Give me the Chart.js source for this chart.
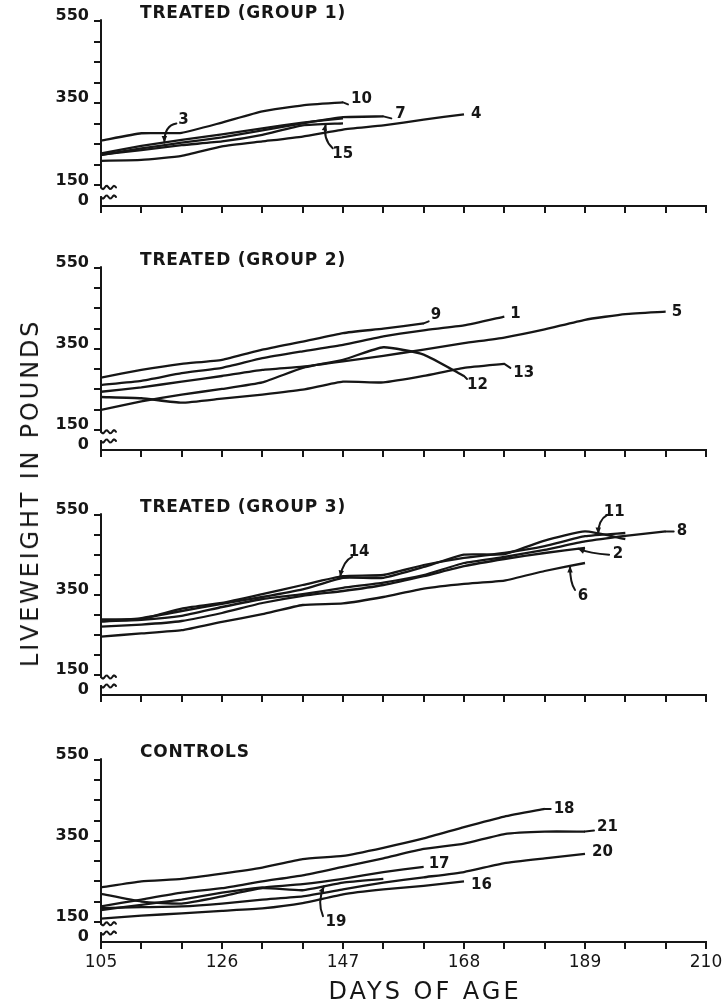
<!DOCTYPE html>
<html>
<head>
<meta charset="utf-8">
<script src="https://cdn.jsdelivr.net/npm/chart.js@4.4.1/dist/chart.umd.min.js"></script>
<style>
  body { margin: 0; background: #fff; width: 727px; height: 1007px; position: relative; overflow: hidden; font-family: "DejaVu Sans", sans-serif; color: #161616; }
  .panel { position: absolute; left: 0; width: 727px; }
  #ytitle { position: absolute; left: 30px; top: 493px; transform: translate(-50%, -50%) rotate(-90deg); font-size: 24px; letter-spacing: 2.8px; white-space: nowrap; }
  #xtitle { position: absolute; left: 425px; top: 991px; transform: translate(-50%, -50%); font-size: 24px; letter-spacing: 3px; white-space: nowrap; }
</style>
</head>
<body>
<div class="panel" style="top:0px;height:216px"><canvas id="g1"></canvas></div>
<div class="panel" style="top:238px;height:222px"><canvas id="g2"></canvas></div>
<div class="panel" style="top:485px;height:220px"><canvas id="g3"></canvas></div>
<div class="panel" style="top:730px;height:277px"><canvas id="g4"></canvas></div>
<div id="ytitle">LIVEWEIGHT IN POUNDS</div>
<div id="xtitle">DAYS OF AGE</div>

<script>
// weighing days (every 7 days from day 105)
var DAYS = [105, 112, 119, 126, 133, 140, 147, 154, 161, 168, 175, 182, 189, 196, 203];
var X_LABELS = [105, 126, 147, 168, 189, 210];
var Y_LABELS = [150, 350, 550];
var Y_TICKS = [100, 150, 200, 250, 300, 350, 400, 450, 500, 550];
var Y_ZERO = 100; // bottom of broken axis, labelled "0"

// Treated (group 1)
var g1_10 = [259, 277, 278, 303, 330, 345, 352];
var g1_3 = [228, 246, 261, 274, 289, 303, 313];
var g1_7 = [224, 240, 254, 267, 284, 301, 316, 318];
var g1_15 = [225, 236, 248, 257, 273, 296, 301];
var g1_4 = [210, 212, 222, 245, 257, 269, 286, 296, 310, 323];

// Treated (group 2)
var g2_9 = [279, 298, 313, 323, 348, 368, 389, 400, 413];
var g2_1 = [261, 271, 290, 303, 327, 344, 360, 381, 396, 408, 430];
var g2_5 = [244, 255, 269, 283, 298, 306, 319, 333, 348, 364, 378, 398, 422, 436, 442];
var g2_12 = [199, 220, 237, 251, 267, 303, 323, 354, 336, 283];
var g2_13 = [231, 228, 217, 227, 237, 249, 269, 267, 283, 303, 313];

// Treated (group 3)
var g3_14 = [289, 290, 316, 330, 352, 375, 397, 400, 425, 443, 455, 472, 497, 505];
var g3_11 = [284, 292, 310, 328, 345, 364, 393, 393, 420, 451, 452, 486, 509, 490];
var g3_8 = [284, 288, 298, 320, 340, 352, 368, 381, 400, 430, 445, 463, 484, 498, 509];
var g3_2 = [271, 276, 285, 305, 330, 348, 360, 375, 397, 422, 440, 455, 468];
var g3_6 = [246, 254, 262, 283, 302, 325, 329, 345, 366, 378, 386, 410, 430];

// Controls
var g4_18 = [235, 250, 256, 269, 284, 305, 313, 333, 356, 384, 410, 429];
var g4_21 = [188, 205, 222, 233, 250, 265, 286, 307, 330, 343, 367, 373, 373];
var g4_17 = [179, 192, 205, 222, 235, 243, 256, 273, 286];
var g4_19 = [219, 200, 195, 213, 233, 228, 247, 256];
var g4_20 = [184, 186, 188, 195, 205, 213, 230, 247, 260, 273, 295, 307, 318];
var g4_16 = [158, 165, 171, 177, 183, 196, 218, 230, 239, 250];

var INK = "#161616";

// label / arrow placement for each panel (pixels)
var DECOR = {
  g1: { title: "TREATED (GROUP 1)", marks: {
    "10": { dx: 8, dy: -3, lead: [5, 2] },
    "7": { dx: 12, dy: -2, lead: [8, 2] },
    "4": { dx: 7, dy: 0 },
    "3": { at: 116, lx: 19, ly: -22, sx: 12, sy: -19, cx: 0, cy: -17 },
    "15": { at: 144, lx: 17, ly: 30, sx: 7, sy: 24, cx: -3, cy: 15 }
  }},
  g2: { title: "TREATED (GROUP 2)", marks: {
    "9": { dx: 7, dy: -8, lead: [5, -2] },
    "1": { dx: 6, dy: -2 },
    "5": { dx: 6, dy: 0 },
    "12": { dx: 3, dy: 9, lead: [3, 3] },
    "13": { dx: 9, dy: 9, lead: [6, 4] }
  }},
  g3: { title: "TREATED (GROUP 3)", marks: {
    "14": { at: 146.5, lx: 19, ly: -25, sx: 12, sy: -20, cx: 3, cy: -16 },
    "11": { at: 191.3, lx: 16, ly: -22, sx: 9, sy: -19, cx: 0, cy: -14 },
    "8": { dx: 11, dy: 0, lead: [8, 0] },
    "2": { at: 187.8, lx: 40, ly: 5, sx: 31, sy: 6, cx: 12, cy: 5 },
    "6": { at: 186.4, lx: 13, ly: 30, sx: 5, sy: 24, cx: 0, cy: 17 }
  }},
  g4: { title: "CONTROLS", marks: {
    "18": { dx: 9, dy: 0, lead: [6, 0] },
    "21": { dx: 12, dy: -4, lead: [9, -1] },
    "20": { dx: 7, dy: -2 },
    "17": { dx: 5, dy: -3 },
    "16": { dx: 7, dy: 4 },
    "19": { at: 143.7, lx: 12, ly: 36, sx: -1, sy: 30, cx: -7, cy: 16 }
  }}
};

function series(name, values) {
  return {
    label: name,
    data: values.map(function (v, i) { return { x: DAYS[i], y: v }; }),
    borderColor: INK,
    borderWidth: 2.3,
    pointRadius: 0,
    tension: 0.15,
    fill: false
  };
}

function valueAt(ds, day) {
  var d = ds.data;
  for (var i = 0; i < d.length - 1; i++) {
    if (day >= d[i].x && day <= d[i + 1].x) {
      var t = (day - d[i].x) / (d[i + 1].x - d[i].x);
      return d[i].y + t * (d[i + 1].y - d[i].y);
    }
  }
  return d[d.length - 1].y;
}

function wave(ctx, x, y, w) {
  ctx.beginPath();
  ctx.moveTo(x, y);
  for (var k = 0; k <= w; k++) {
    ctx.lineTo(x + k, y + 1.6 * Math.sin(k / w * Math.PI * 4));
  }
  ctx.stroke();
}

var decorPlugin = {
  id: "decor",
  afterDatasetsDraw: function (chart) {
    var cfg = DECOR[chart.canvas.id];
    var ctx = chart.ctx, area = chart.chartArea;
    var xs = chart.scales.x, ys = chart.scales.y;
    ctx.save();
    ctx.strokeStyle = INK;
    ctx.fillStyle = INK;
    ctx.lineWidth = 2;
    ctx.lineCap = "round";

    // broken y axis
    var ax = area.left;
    var y550 = ys.getPixelForValue(550), y150 = ys.getPixelForValue(150);
    ctx.beginPath(); ctx.moveTo(ax, y550 - 1); ctx.lineTo(ax, y150 + 2); ctx.stroke();
    wave(ctx, ax, y150 + 2, 15);
    ctx.beginPath(); ctx.moveTo(ax, area.bottom); ctx.lineTo(ax, area.bottom - 9); ctx.stroke();
    wave(ctx, ax, area.bottom - 9, 15);

    // panel title
    ctx.font = 'bold 17px "DejaVu Sans"';
    ctx.letterSpacing = "0.8px";
    ctx.textBaseline = "middle";
    ctx.textAlign = "left";
    ctx.fillText(cfg.title, area.left + 39, area.top - 7);
    ctx.letterSpacing = "0px";

    // animal numbers
    ctx.font = 'bold 15px "DejaVu Sans"';
    chart.data.datasets.forEach(function (ds) {
      var m = cfg.marks[ds.label];
      if (!m) return;
      if (m.at === undefined) {
        var last = ds.data[ds.data.length - 1];
        var ex = xs.getPixelForValue(last.x), ey = ys.getPixelForValue(last.y);
        if (m.lead) {
          ctx.beginPath(); ctx.moveTo(ex, ey); ctx.lineTo(ex + m.lead[0], ey + m.lead[1]); ctx.stroke();
        }
        ctx.textAlign = "left";
        ctx.fillText(ds.label, ex + m.dx, ey + m.dy);
      } else {
        var tx = xs.getPixelForValue(m.at), ty = ys.getPixelForValue(valueAt(ds, m.at));
        ctx.beginPath();
        ctx.moveTo(tx + m.sx, ty + m.sy);
        ctx.quadraticCurveTo(tx + m.cx, ty + m.cy, tx, ty);
        ctx.stroke();
        var a = Math.atan2(-m.cy, -m.cx);
        ctx.beginPath();
        ctx.moveTo(tx, ty);
        ctx.lineTo(tx - 7 * Math.cos(a - 0.4), ty - 7 * Math.sin(a - 0.4));
        ctx.lineTo(tx - 7 * Math.cos(a + 0.4), ty - 7 * Math.sin(a + 0.4));
        ctx.closePath();
        ctx.fill();
        ctx.textAlign = "center";
        ctx.fillText(ds.label, tx + m.lx, ty + m.ly);
      }
    });
    ctx.restore();
  }
};
Chart.register(decorPlugin);

function makePanel(id, datasets, padTop, showX) {
  new Chart(document.getElementById(id), {
    type: "line",
    data: { datasets: datasets },
    options: {
      responsive: true,
      maintainAspectRatio: false,
      animation: false,
      layout: { padding: { top: padTop, right: 21, bottom: 0, left: 0 } },
      plugins: { legend: { display: false }, tooltip: { enabled: false } },
      scales: {
        x: {
          type: "linear",
          min: 105,
          max: 210,
          offset: false,
          border: { display: true, color: INK, width: 2 },
          grid: { drawOnChartArea: false, drawTicks: true, tickLength: 7, color: INK, lineWidth: 2 },
          ticks: {
            display: showX,
            stepSize: 7,
            autoSkip: false,
            maxRotation: 0,
            padding: 3,
            color: INK,
            font: { family: "DejaVu Sans", size: 17 },
            callback: function (v) { return X_LABELS.indexOf(v) >= 0 ? String(v) : ""; }
          },
          afterFit: function (s) {
            s.height = showX ? 65 : 10;
            s.paddingLeft = 0;
            s.paddingRight = 0;
          }
        },
        y: {
          min: Y_ZERO,
          max: 550,
          border: { display: false },
          grid: {
            drawOnChartArea: false,
            drawTicks: true,
            tickLength: 7,
            lineWidth: 2,
            color: function (c) { return c.tick && c.tick.value === Y_ZERO ? "rgba(0,0,0,0)" : INK; }
          },
          afterBuildTicks: function (s) {
            s.ticks = Y_TICKS.map(function (v) { return { value: v }; });
          },
          ticks: {
            autoSkip: false,
            padding: 5,
            labelOffset: -5,
            color: INK,
            font: { family: "DejaVu Sans", size: 16, weight: "bold" },
            callback: function (v) {
              if (v === Y_ZERO) return "0";
              return Y_LABELS.indexOf(v) >= 0 ? String(v) : "";
            }
          },
          afterFit: function (s) {
            s.width = 101;
            s.paddingTop = 0;
            s.paddingBottom = 0;
          }
        }
      }
    }
  });
}

makePanel("g1", [series("10", g1_10), series("3", g1_3), series("7", g1_7), series("15", g1_15), series("4", g1_4)], 21, false);
makePanel("g2", [series("9", g2_9), series("1", g2_1), series("5", g2_5), series("12", g2_12), series("13", g2_13)], 30, false);
makePanel("g3", [series("14", g3_14), series("11", g3_11), series("8", g3_8), series("2", g3_2), series("6", g3_6)], 30, false);
makePanel("g4", [series("18", g4_18), series("21", g4_21), series("17", g4_17), series("19", g4_19), series("20", g4_20), series("16", g4_16)], 30, true);
</script>
</body>
</html>
